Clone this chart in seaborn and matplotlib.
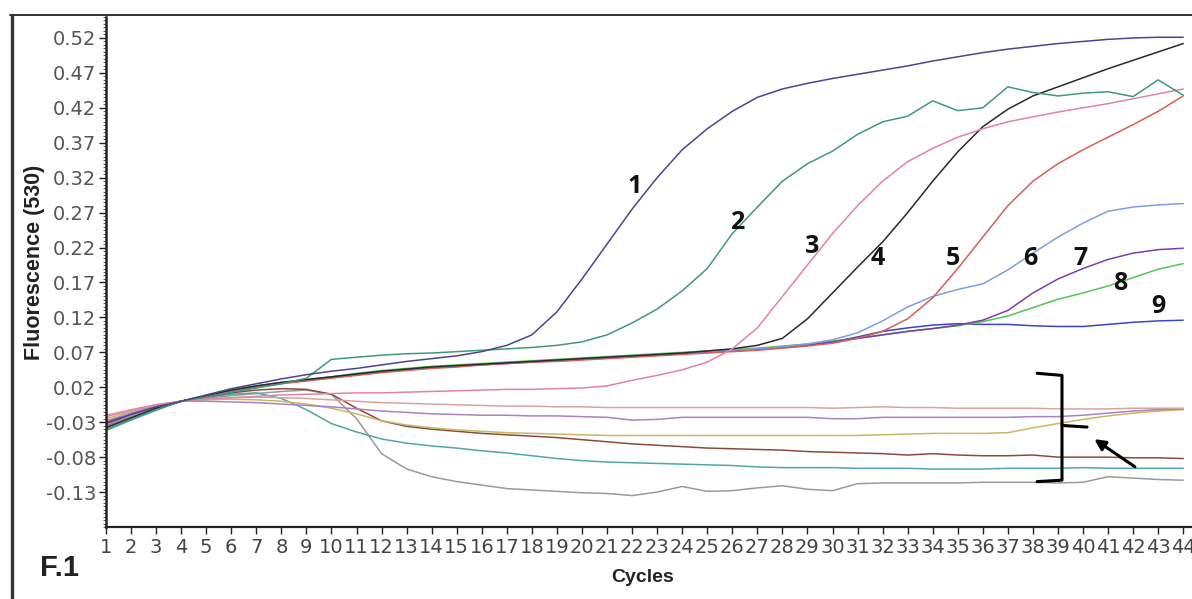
import numpy as np
import pandas as pd
import seaborn as sns
import matplotlib.pyplot as plt
from matplotlib.lines import Line2D
from matplotlib.ticker import MultipleLocator

# Real-time PCR amplification curves, fluorescence (530) per cycle
cycles = list(range(1, 45))

curve_1 = [-0.032, -0.019, -0.008, 0.000, 0.009, 0.018, 0.025, 0.032, 0.038, 0.043, 0.047, 0.052, 0.057, 0.061, 0.065,
           0.071, 0.080, 0.095, 0.128, 0.175, 0.225, 0.275, 0.320, 0.360, 0.390, 0.415, 0.435, 0.447, 0.455, 0.462,
           0.468, 0.474, 0.480, 0.487, 0.493, 0.499, 0.504, 0.508, 0.512, 0.515, 0.518, 0.520, 0.521, 0.521]
curve_2 = [-0.040, -0.026, -0.012, 0.000, 0.006, 0.013, 0.019, 0.025, 0.033, 0.060, 0.063, 0.066, 0.068, 0.069, 0.071,
           0.073, 0.075, 0.077, 0.080, 0.085, 0.095, 0.112, 0.132, 0.158, 0.190, 0.240, 0.278, 0.315, 0.340, 0.358,
           0.382, 0.400, 0.408, 0.430, 0.416, 0.420, 0.450, 0.442, 0.437, 0.441, 0.443, 0.436, 0.460, 0.438]
curve_3 = [-0.022, -0.013, -0.005, 0.000, 0.003, 0.005, 0.007, 0.009, 0.010, 0.011, 0.012, 0.012, 0.013, 0.014, 0.015,
           0.016, 0.017, 0.017, 0.018, 0.019, 0.022, 0.030, 0.037, 0.045, 0.056, 0.075, 0.105, 0.150, 0.195, 0.240,
           0.280, 0.315, 0.343, 0.362, 0.378, 0.390, 0.400, 0.407, 0.414, 0.420, 0.426, 0.433, 0.440, 0.447]
curve_4 = [-0.038, -0.024, -0.010, 0.000, 0.008, 0.016, 0.022, 0.027, 0.031, 0.035, 0.039, 0.043, 0.046, 0.049, 0.051,
           0.053, 0.055, 0.057, 0.059, 0.061, 0.063, 0.065, 0.067, 0.069, 0.072, 0.075, 0.080, 0.090, 0.118, 0.155,
           0.192, 0.228, 0.270, 0.315, 0.357, 0.393, 0.418, 0.437, 0.450, 0.463, 0.476, 0.488, 0.500, 0.512]
curve_5 = [-0.036, -0.023, -0.010, 0.000, 0.007, 0.014, 0.020, 0.025, 0.029, 0.033, 0.037, 0.041, 0.044, 0.047, 0.049,
           0.052, 0.054, 0.056, 0.057, 0.059, 0.061, 0.063, 0.065, 0.067, 0.069, 0.071, 0.073, 0.076, 0.079, 0.083,
           0.090, 0.100, 0.118, 0.148, 0.190, 0.235, 0.280, 0.315, 0.340, 0.360, 0.378, 0.396, 0.415, 0.437]
curve_6 = [-0.034, -0.021, -0.009, 0.000, 0.008, 0.015, 0.021, 0.026, 0.030, 0.034, 0.038, 0.042, 0.045, 0.048, 0.050,
           0.053, 0.055, 0.057, 0.059, 0.061, 0.063, 0.065, 0.067, 0.069, 0.071, 0.073, 0.075, 0.078, 0.082, 0.088,
           0.098, 0.115, 0.135, 0.150, 0.160, 0.168, 0.188, 0.212, 0.235, 0.255, 0.272, 0.278, 0.281, 0.283]
curve_7 = [-0.037, -0.024, -0.011, 0.000, 0.007, 0.015, 0.021, 0.026, 0.030, 0.034, 0.038, 0.042, 0.045, 0.048, 0.050,
           0.052, 0.054, 0.056, 0.058, 0.060, 0.062, 0.064, 0.066, 0.068, 0.070, 0.072, 0.074, 0.077, 0.080, 0.085,
           0.090, 0.095, 0.100, 0.104, 0.109, 0.116, 0.130, 0.155, 0.175, 0.190, 0.203, 0.212, 0.217, 0.219]
curve_8 = [-0.035, -0.022, -0.009, 0.000, 0.008, 0.016, 0.022, 0.027, 0.031, 0.035, 0.040, 0.044, 0.047, 0.050, 0.052,
           0.054, 0.056, 0.058, 0.060, 0.062, 0.064, 0.066, 0.068, 0.070, 0.072, 0.074, 0.076, 0.079, 0.082, 0.086,
           0.090, 0.095, 0.100, 0.104, 0.108, 0.114, 0.122, 0.134, 0.146, 0.155, 0.165, 0.177, 0.189, 0.197]
curve_9 = [-0.036, -0.023, -0.010, 0.000, 0.007, 0.015, 0.021, 0.026, 0.030, 0.034, 0.038, 0.042, 0.045, 0.048, 0.051,
           0.053, 0.055, 0.057, 0.059, 0.061, 0.063, 0.065, 0.067, 0.069, 0.071, 0.073, 0.075, 0.078, 0.081, 0.085,
           0.092, 0.100, 0.105, 0.109, 0.111, 0.110, 0.110, 0.108, 0.107, 0.107, 0.110, 0.113, 0.115, 0.116]

# negative samples (below threshold)
neg_rose = [-0.020, -0.012, -0.005, 0.000, 0.003, 0.005, 0.006, 0.005, 0.004, 0.002, 0.000, -0.002, -0.003, -0.004,
            -0.005, -0.006, -0.007, -0.007, -0.008, -0.008, -0.009, -0.009, -0.009, -0.009, -0.009, -0.009, -0.009,
            -0.009, -0.009, -0.010, -0.009, -0.008, -0.009, -0.009, -0.010, -0.010, -0.010, -0.010, -0.011, -0.011,
            -0.011, -0.010, -0.010, -0.010]
neg_mauve = [-0.028, -0.017, -0.007, 0.000, 0.000, -0.001, -0.002, -0.004, -0.006, -0.008, -0.011, -0.014, -0.016,
             -0.018, -0.019, -0.020, -0.020, -0.021, -0.021, -0.022, -0.023, -0.027, -0.026, -0.023, -0.023, -0.023,
             -0.023, -0.023, -0.023, -0.025, -0.025, -0.023, -0.023, -0.023, -0.023, -0.023, -0.023, -0.022, -0.022,
             -0.020, -0.017, -0.014, -0.012, -0.011]
neg_khaki = [-0.025, -0.015, -0.006, 0.000, 0.002, 0.003, 0.002, 0.000, -0.004, -0.010, -0.018, -0.028, -0.034,
             -0.038, -0.041, -0.043, -0.045, -0.046, -0.047, -0.048, -0.049, -0.049, -0.049, -0.049, -0.049, -0.049,
             -0.049, -0.049, -0.049, -0.049, -0.049, -0.048, -0.047, -0.046, -0.046, -0.046, -0.045, -0.038, -0.032,
             -0.026, -0.021, -0.017, -0.014, -0.012]
neg_brown = [-0.030, -0.018, -0.007, 0.000, 0.006, 0.012, 0.016, 0.018, 0.017, 0.010, -0.010, -0.028, -0.036, -0.040,
             -0.043, -0.046, -0.048, -0.050, -0.052, -0.055, -0.058, -0.061, -0.063, -0.065, -0.067, -0.068, -0.069,
             -0.070, -0.072, -0.073, -0.074, -0.075, -0.077, -0.075, -0.077, -0.078, -0.078, -0.077, -0.080, -0.080,
             -0.080, -0.081, -0.081, -0.082]
neg_teal = [-0.042, -0.027, -0.013, 0.000, 0.006, 0.010, 0.012, 0.004, -0.012, -0.032, -0.044, -0.054, -0.060, -0.064,
            -0.067, -0.071, -0.074, -0.078, -0.082, -0.085, -0.087, -0.088, -0.089, -0.090, -0.091, -0.092, -0.094,
            -0.095, -0.095, -0.095, -0.096, -0.096, -0.096, -0.097, -0.097, -0.097, -0.096, -0.096, -0.096, -0.095,
            -0.096, -0.096, -0.096, -0.096]
neg_gray = [-0.030, -0.018, -0.007, 0.000, 0.004, 0.008, 0.011, 0.014, 0.016, 0.010, -0.025, -0.075, -0.097, -0.108,
            -0.115, -0.120, -0.125, -0.127, -0.129, -0.131, -0.132, -0.135, -0.130, -0.122, -0.129, -0.128, -0.124,
            -0.121, -0.126, -0.128, -0.118, -0.117, -0.117, -0.117, -0.117, -0.116, -0.116, -0.116, -0.117, -0.116,
            -0.108, -0.110, -0.112, -0.113]

series = {
    "neg_gray": neg_gray, "neg_teal": neg_teal, "neg_brown": neg_brown, "neg_khaki": neg_khaki,
    "neg_mauve": neg_mauve, "neg_rose": neg_rose,
    "9": curve_9, "8": curve_8, "7": curve_7, "6": curve_6, "5": curve_5,
    "4": curve_4, "3": curve_3, "2": curve_2, "1": curve_1,
}
colors = {
    "neg_gray": "#9a9a9a", "neg_teal": "#4fa8a6", "neg_brown": "#8c4a3c", "neg_khaki": "#c9b765",
    "neg_mauve": "#ab82bd", "neg_rose": "#dba3a0",
    "9": "#3a46c4", "8": "#52c653", "7": "#7a3eae", "6": "#809ee0", "5": "#d4605a",
    "4": "#2a2a2a", "3": "#e283a5", "2": "#3f9a7c", "1": "#4d4490",
}

# curve label positions (cycle, fluorescence)
label_names = ["1", "2", "3", "4", "5", "6", "7", "8", "9"]
label_x = [22.1, 26.2, 29.2, 31.8, 34.8, 37.9, 39.9, 41.5, 43.0]
label_y = [0.308, 0.256, 0.222, 0.205, 0.205, 0.205, 0.205, 0.168, 0.136]

ytick_vals = [0.52, 0.47, 0.42, 0.37, 0.32, 0.27, 0.22, 0.17, 0.12, 0.07, 0.02, -0.03, -0.08, -0.13]

df = pd.concat([pd.DataFrame({"cycle": cycles, "fluor": v, "well": k}) for k, v in series.items()])

sns.set_style("white")
plt.rcParams["font.family"] = ["Liberation Sans", "DejaVu Sans"]

fig = plt.figure(figsize=(11.92, 5.99), dpi=100)
ax = fig.add_axes([106 / 1192, 72 / 599, 1086 / 1192, 510 / 599])

sns.lineplot(data=df, x="cycle", y="fluor", hue="well", hue_order=list(series.keys()),
             palette=colors, estimator=None, legend=False, linewidth=1.1, ax=ax)

ax.set_xlim(1, 44.35)
ax.set_ylim(-0.180, 0.550)
ax.set_xticks(cycles)
ax.set_xticklabels([str(c) for c in cycles], fontsize=14, color="#444444",
                   family=["Liberation Sans Narrow", "DejaVu Sans"])
ax.set_yticks(ytick_vals)
ax.set_yticklabels([f"{v:.2f}" for v in ytick_vals], fontsize=14, color="#555555",
                   family=["Liberation Sans Narrow", "DejaVu Sans"])
ax.yaxis.set_minor_locator(MultipleLocator(0.005))
ax.tick_params(axis="both", which="major", direction="out", length=5, width=1, color="#222222", pad=2,
               bottom=True, left=True)
ax.tick_params(axis="x", which="major", pad=3)
ax.tick_params(axis="y", which="minor", direction="out", length=2.5, width=0.6, color="#444444", left=True)

for side in ["top", "right"]:
    ax.spines[side].set_visible(False)
ax.spines["left"].set_color("#222222")
ax.spines["left"].set_linewidth(1.8)
ax.spines["bottom"].set_color("#222222")
ax.spines["bottom"].set_linewidth(1.6)

ax.set_xlabel("")
ax.set_ylabel("")
fig.text(643 / 1192, 1 - 577 / 599, "Cycles", ha="center", va="center", fontsize=14, fontweight="bold",
         color="#222222")
fig.text(35 / 1192, 1 - 262 / 599, "Fluorescence (530)", ha="center", va="center", rotation=90,
         fontsize=15.5, fontweight="bold", color="#222222")
fig.text(60 / 1192, 1 - 568 / 599, "F.1", ha="center", va="center", fontsize=21, fontweight="bold",
         color="#222222")

for name, lx, ly in zip(label_names, label_x, label_y):
    ax.text(lx, ly, name, ha="center", va="center", fontsize=18, fontweight="bold", color="#111111",
            family=["Open Sans", "DejaVu Sans"])

# bracket around the negative samples and the arrow
ax.plot([38.17, 39.16, 39.16, 38.17], [0.040, 0.037, -0.113, -0.115], color="black", lw=2.2,
        solid_joinstyle="round")
ax.plot([39.16, 40.16], [-0.0346, -0.037], color="black", lw=2.2)
ax.annotate("", xy=(40.36, -0.052), xytext=(42.16, -0.096),
            arrowprops=dict(arrowstyle="-|>", color="black", lw=2.2, mutation_scale=16))

# page frame
fig.add_artist(Line2D([12 / 1192, 12 / 1192], [0, 1 - 15 / 599], transform=fig.transFigure,
                      color="#333333", lw=2.4))
fig.add_artist(Line2D([10 / 1192, 1], [1 - 15 / 599, 1 - 15 / 599], transform=fig.transFigure,
                      color="#333333", lw=1.4))

fig.savefig("out.png", dpi=100)
